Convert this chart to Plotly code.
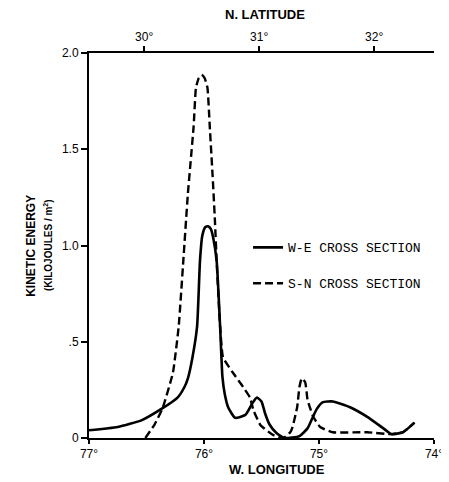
import plotly.graph_objects as go

# W-E cross section (solid): longitude (deg W), kinetic energy (kJ/m^2)
we_lon = [77.00, 76.75, 76.54, 76.36, 76.23, 76.17, 76.14, 76.10, 76.06, 76.035, 76.015, 75.99,
          75.965, 75.94, 75.92, 75.89, 75.86, 75.84, 75.82, 75.79, 75.73, 75.64, 75.58, 75.54,
          75.50, 75.47, 75.43, 75.37, 75.30, 75.17, 75.10, 75.06, 75.02, 74.97, 74.88, 74.73,
          74.58, 74.44, 74.37, 74.27, 74.17]
we_ke = [0.04, 0.057, 0.093, 0.155, 0.21, 0.265, 0.31, 0.42, 0.58, 0.92, 1.05, 1.095,
         1.10, 1.085, 1.04, 0.92, 0.58, 0.32, 0.23, 0.16, 0.105, 0.12, 0.18, 0.21,
         0.19, 0.13, 0.07, 0.026, 0.0, 0.01, 0.05, 0.10, 0.15, 0.185, 0.19, 0.16,
         0.11, 0.05, 0.02, 0.03, 0.08]

# S-N cross section (dashed)
sn_lon = [76.51, 76.43, 76.36, 76.27, 76.22, 76.18, 76.14, 76.09, 76.07, 76.045, 76.02, 75.995,
          75.97, 75.95, 75.925, 75.905, 75.89, 75.86, 75.835, 75.75, 75.66, 75.60, 75.57, 75.51,
          75.40, 75.31, 75.25, 75.23, 75.19, 75.17, 75.15, 75.12, 75.10, 75.08, 75.05, 74.99,
          74.88, 74.58, 74.38, 74.27, 74.17]
sn_ke = [0.0, 0.07, 0.155, 0.34, 0.58, 0.92, 1.27, 1.62, 1.82, 1.87, 1.886, 1.87,
         1.82, 1.62, 1.36, 1.13, 0.92, 0.58, 0.42, 0.34, 0.265, 0.21, 0.145, 0.068,
         0.016, 0.0, 0.03, 0.057, 0.16, 0.265, 0.31, 0.29, 0.20, 0.16, 0.11, 0.057,
         0.03, 0.03, 0.02, 0.03, 0.08]

lon_ticks = [77, 76, 75, 74]
lon_labels = ["77°", "76°", "75°", "74°"]
lat_ticks = [30, 31, 32]
lat_labels = ["30°", "31°", "32°"]
lat_range = [29.52, 32.52]
ke_ticks = [0, 0.5, 1.0, 1.5, 2.0]
ke_labels = ["0", ".5", "1.0", "1.5", "2.0"]

FONT = "Liberation Sans, Arial, sans-serif"
MONO = "Liberation Mono, DejaVu Sans Mono, monospace"

fig = go.Figure()
fig.add_trace(go.Scatter(x=we_lon, y=we_ke, mode="lines", name="W-E CROSS SECTION",
                         line=dict(color="black", width=2.6, shape="spline", smoothing=0.5),
                         legendgroup="a"))
fig.add_trace(go.Scatter(x=sn_lon, y=sn_ke, mode="lines", name="S-N CROSS SECTION",
                         line=dict(color="black", width=2.4, dash="8px,4px", shape="spline", smoothing=0.4),
                         legendgroup="b"))
fig.add_trace(go.Scatter(x=lat_range, y=[None, None], xaxis="x2", mode="lines",
                         showlegend=False, hoverinfo="skip"))

axis_common = dict(showline=True, linecolor="black", linewidth=2, ticks="outside",
                   tickwidth=2, tickcolor="black", showgrid=False,
                   zeroline=False, automargin=False, tickfont=dict(family=FONT, size=12))

# page body adds an 8px offset, so the figure is sized to sit inside the 449x482 window
fig.update_layout(
    width=441, height=474,
    margin=dict(l=81, r=15, t=45, b=44, autoexpand=False),
    paper_bgcolor="white", plot_bgcolor="white",
    font=dict(family=FONT, color="black", size=12),
    xaxis=dict(range=[77, 74], tickvals=lon_ticks, ticktext=lon_labels, ticklen=4, **axis_common),
    xaxis2=dict(range=lat_range, overlaying="x", side="top", tickvals=lat_ticks,
                ticktext=lat_labels, ticklen=5, **axis_common),
    yaxis=dict(range=[0, 2.0], tickvals=ke_ticks, ticktext=ke_labels, ticklen=6, **axis_common),
    legend=dict(x=0.461, y=0.534, xanchor="left", yanchor="top", traceorder="grouped",
                tracegroupgap=16, font=dict(family=MONO, size=13), bgcolor="rgba(0,0,0,0)"),
    showlegend=True,
    annotations=[
        dict(text="<b>W. LONGITUDE</b>", xref="paper", yref="paper", x=0.545, y=-0.083,
             xanchor="center", yanchor="middle", showarrow=False, font=dict(size=13)),
        dict(text="<b>N. LATITUDE</b>", xref="paper", yref="paper", x=0.51, y=1.099,
             xanchor="center", yanchor="middle", showarrow=False, font=dict(size=13)),
        dict(text="<b>KINETIC ENERGY</b>", xref="paper", yref="paper", x=-0.17, y=0.5,
             xanchor="center", yanchor="middle", textangle=-90, showarrow=False,
             font=dict(size=12)),
        dict(text="<b>(KILOJOULES / m<sup>2</sup>)</b>", xref="paper", yref="paper", x=-0.12, y=0.5,
             xanchor="center", yanchor="middle", textangle=-90, showarrow=False,
             font=dict(size=10)),
    ],
)

fig.write_html("out.html")
